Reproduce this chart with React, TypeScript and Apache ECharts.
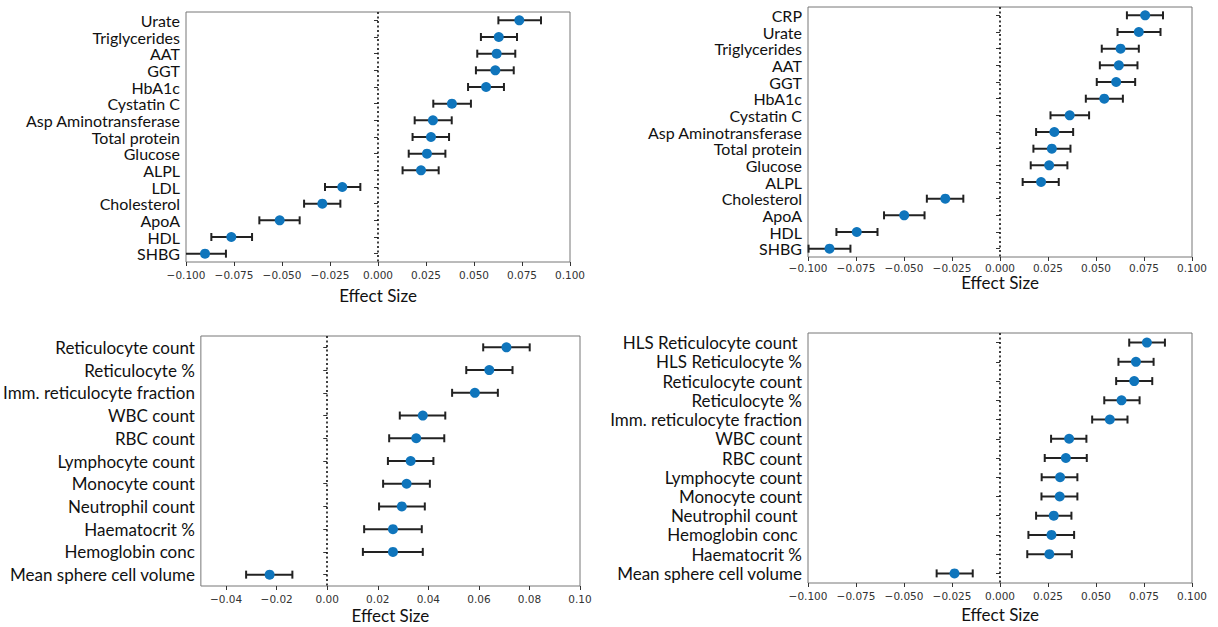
import React, { useEffect, useRef } from "react";
import * as echarts from "echarts";

// Panel A (top-left)
const cats1 = ["Urate", "Triglycerides", "AAT", "GGT", "HbA1c", "Cystatin C", "Asp Aminotransferase", "Total protein", "Glucose", "ALPL", "LDL", "Cholesterol", "ApoA", "HDL", "SHBG"];
const est1 = [0.0736, 0.0629, 0.0618, 0.0611, 0.0563, 0.0385, 0.0286, 0.0276, 0.0255, 0.0224, -0.0186, -0.029, -0.0512, -0.0764, -0.0901];
const lo1 = [0.0627, 0.0536, 0.0517, 0.051, 0.0469, 0.0288, 0.0191, 0.018, 0.016, 0.0128, -0.0276, -0.0385, -0.0618, -0.0868, -0.1009];
const hi1 = [0.0849, 0.0724, 0.0715, 0.0707, 0.0656, 0.0484, 0.0384, 0.037, 0.0351, 0.0316, -0.0092, -0.0196, -0.0408, -0.0656, -0.0792];

// Panel B (top-right)
const cats2 = ["CRP", "Urate", "Triglycerides", "AAT", "GGT", "HbA1c", "Cystatin C", "Asp Aminotransferase", "Total protein", "Glucose", "ALPL", "Cholesterol", "ApoA", "HDL", "SHBG"];
const est2 = [0.0756, 0.0723, 0.0628, 0.0619, 0.0605, 0.0543, 0.0363, 0.0283, 0.027, 0.0256, 0.0214, -0.0285, -0.0499, -0.0746, -0.0888];
const lo2 = [0.0661, 0.0612, 0.053, 0.052, 0.0504, 0.0447, 0.0263, 0.0188, 0.0174, 0.016, 0.0118, -0.0381, -0.0604, -0.0852, -0.0997];
const hi2 = [0.0849, 0.0836, 0.0723, 0.0716, 0.0704, 0.064, 0.0464, 0.0381, 0.0367, 0.0351, 0.0306, -0.0191, -0.0393, -0.0638, -0.0779];

// Panel C (bottom-left)
const cats3 = ["Reticulocyte count", "Reticulocyte %", "Imm. reticulocyte fraction", "WBC count", "RBC count", "Lymphocyte count", "Monocyte count", "Neutrophil count", "Haematocrit %", "Hemoglobin conc", "Mean sphere cell volume"];
const est3 = [0.0709, 0.0641, 0.0584, 0.0378, 0.0352, 0.033, 0.0314, 0.0295, 0.026, 0.026, -0.0228];
const lo3 = [0.0617, 0.055, 0.0494, 0.0287, 0.0245, 0.024, 0.0221, 0.0205, 0.0146, 0.0141, -0.0321];
const hi3 = [0.0801, 0.0733, 0.0675, 0.0467, 0.0463, 0.042, 0.0406, 0.0386, 0.0374, 0.0378, -0.0138];

// Panel D (bottom-right)
const cats4 = ["HLS Reticulocyte count ", "HLS Reticulocyte %", "Reticulocyte count", "Reticulocyte %", "Imm. reticulocyte fraction", "WBC count", "RBC count", "Lymphocyte count", "Monocyte count", "Neutrophil count ", "Hemoglobin conc ", "Haematocrit %", "Mean sphere cell volume"];
const est4 = [0.0765, 0.0708, 0.0699, 0.0633, 0.0572, 0.036, 0.0343, 0.0313, 0.0311, 0.028, 0.0268, 0.0257, -0.0237];
const lo4 = [0.0673, 0.0617, 0.0605, 0.0543, 0.048, 0.0266, 0.0233, 0.0217, 0.0216, 0.0188, 0.0148, 0.0142, -0.033];
const hi4 = [0.0859, 0.08, 0.0793, 0.0727, 0.0664, 0.045, 0.0452, 0.0403, 0.0403, 0.0372, 0.0386, 0.0374, -0.0142];

const ticksWide = [-0.1, -0.075, -0.05, -0.025, 0, 0.025, 0.05, 0.075, 0.1];
const ticksNarrow = [-0.04, -0.02, 0, 0.02, 0.04, 0.06, 0.08, 0.1];

const LABEL_FONT = "Lato";
const TICK_FONT = "DejaVu Sans";
const DOT = "#0f75bc";
const BAR = "#222222";

const panels = [
  { cats: cats1, est: est1, lo: lo1, hi: hi1, ticks: ticksWide, dec: 3, min: -0.1, max: 0.1, grid: { left: 186, top: 12, width: 384, height: 250 }, labelMargin: 7, nameGap: 25, catFont: 16 },
  { cats: cats2, est: est2, lo: lo2, hi: hi2, ticks: ticksWide, dec: 3, min: -0.1, max: 0.1, grid: { left: 808, top: 7, width: 384, height: 250 }, labelMargin: 5, nameGap: 13, catFont: 16 },
  { cats: cats3, est: est3, lo: lo3, hi: hi3, ticks: ticksNarrow, dec: 2, min: -0.05, max: 0.1, grid: { left: 197, top: 336, width: 383, height: 250 }, labelMargin: 7, nameGap: 21, catFont: 17 },
  { cats: cats4, est: est4, lo: lo4, hi: hi4, ticks: ticksWide, dec: 3, min: -0.1, max: 0.1, grid: { left: 808, top: 333, width: 384, height: 250 }, labelMargin: 7, nameGap: 23, catFont: 17 },
];

function fmt(v: number, dec: number) {
  const s = Math.abs(v).toFixed(dec);
  return v < -1e-12 ? "\u2212" + s : s;
}

export default function App() {
  const ref = useRef<HTMLDivElement>(null);
  useEffect(() => {
    document.body.style.margin = "0";
    const chart = echarts.init(ref.current!, null, { renderer: "svg" });
    const grids: any[] = [];
    const xAxes: any[] = [];
    const yAxes: any[] = [];
    const series: any[] = [];
    panels.forEach((p, i) => {
      grids.push({ ...p.grid, show: true, borderColor: "#777", borderWidth: 1, backgroundColor: "transparent", containLabel: false });
      xAxes.push({
        type: "value",
        gridIndex: i,
        min: p.min,
        max: p.max,
        name: "Effect Size",
        nameLocation: "middle",
        nameGap: p.nameGap,
        nameTextStyle: { fontFamily: LABEL_FONT, fontSize: 17, color: "#111" },
        axisLine: { show: false },
        splitLine: { show: false },
        axisTick: { show: true, length: 4, lineStyle: { color: "#333" }, customValues: p.ticks },
        axisLabel: {
          customValues: p.ticks,
          margin: p.labelMargin,
          fontFamily: TICK_FONT,
          fontSize: 10.5,
          color: "#333",
          formatter: (v: number) => fmt(v, p.dec),
        },
      });
      yAxes.push({
        type: "category",
        gridIndex: i,
        data: p.cats,
        inverse: true,
        boundaryGap: true,
        axisLine: { show: false },
        splitLine: { show: false },
        axisTick: { show: true, alignWithLabel: true, length: 4, lineStyle: { color: "#333" } },
        axisLabel: { interval: 0, margin: 6, fontFamily: LABEL_FONT, fontSize: p.catFont, color: "#111" },
      });
      series.push({
        type: "custom",
        xAxisIndex: i,
        yAxisIndex: i,
        data: p.cats.map((c, k) => [k, p.lo[k], p.hi[k]]),
        encode: { x: [1, 2], y: 0 },
        renderItem: (params: any, api: any) => {
          const k = api.value(0);
          const a = api.coord([api.value(1), k]);
          const b = api.coord([api.value(2), k]);
          const cs = params.coordSys;
          const x0 = Math.max(cs.x, a[0]);
          const x1 = Math.min(cs.x + cs.width, b[0]);
          const y = a[1];
          const cap = 4;
          const st = { stroke: BAR, lineWidth: 2, fill: "none" };
          const children: any[] = [
            { type: "line", shape: { x1: x0, y1: y, x2: x1, y2: y }, style: st },
          ];
          if (a[0] >= cs.x - 0.5) children.push({ type: "line", shape: { x1: a[0], y1: y - cap, x2: a[0], y2: y + cap }, style: st });
          if (b[0] <= cs.x + cs.width + 0.5) children.push({ type: "line", shape: { x1: b[0], y1: y - cap, x2: b[0], y2: y + cap }, style: st });
          return { type: "group", children };
        },
        z: 2,
        silent: true,
      });
      series.push({
        type: "scatter",
        xAxisIndex: i,
        yAxisIndex: i,
        data: p.cats.map((c, k) => [p.est[k], k]),
        symbol: "circle",
        symbolSize: 10,
        itemStyle: { color: DOT, opacity: 1 },
        z: 3,
        silent: true,
        markLine: {
          silent: true,
          symbol: "none",
          label: { show: false },
          lineStyle: { color: "#111", type: [2, 2.5], width: 1.6 },
          data: [{ xAxis: 0 }],
          z: 1,
        },
      });
    });
    chart.setOption({
      animation: false,
      backgroundColor: "#ffffff",
      grid: grids,
      xAxis: xAxes,
      yAxis: yAxes,
      series,
    });
    return () => chart.dispose();
  }, []);
  return <div ref={ref} style={{ position: "absolute", left: 0, top: 0, width: 1218, height: 627 }} />;
}
